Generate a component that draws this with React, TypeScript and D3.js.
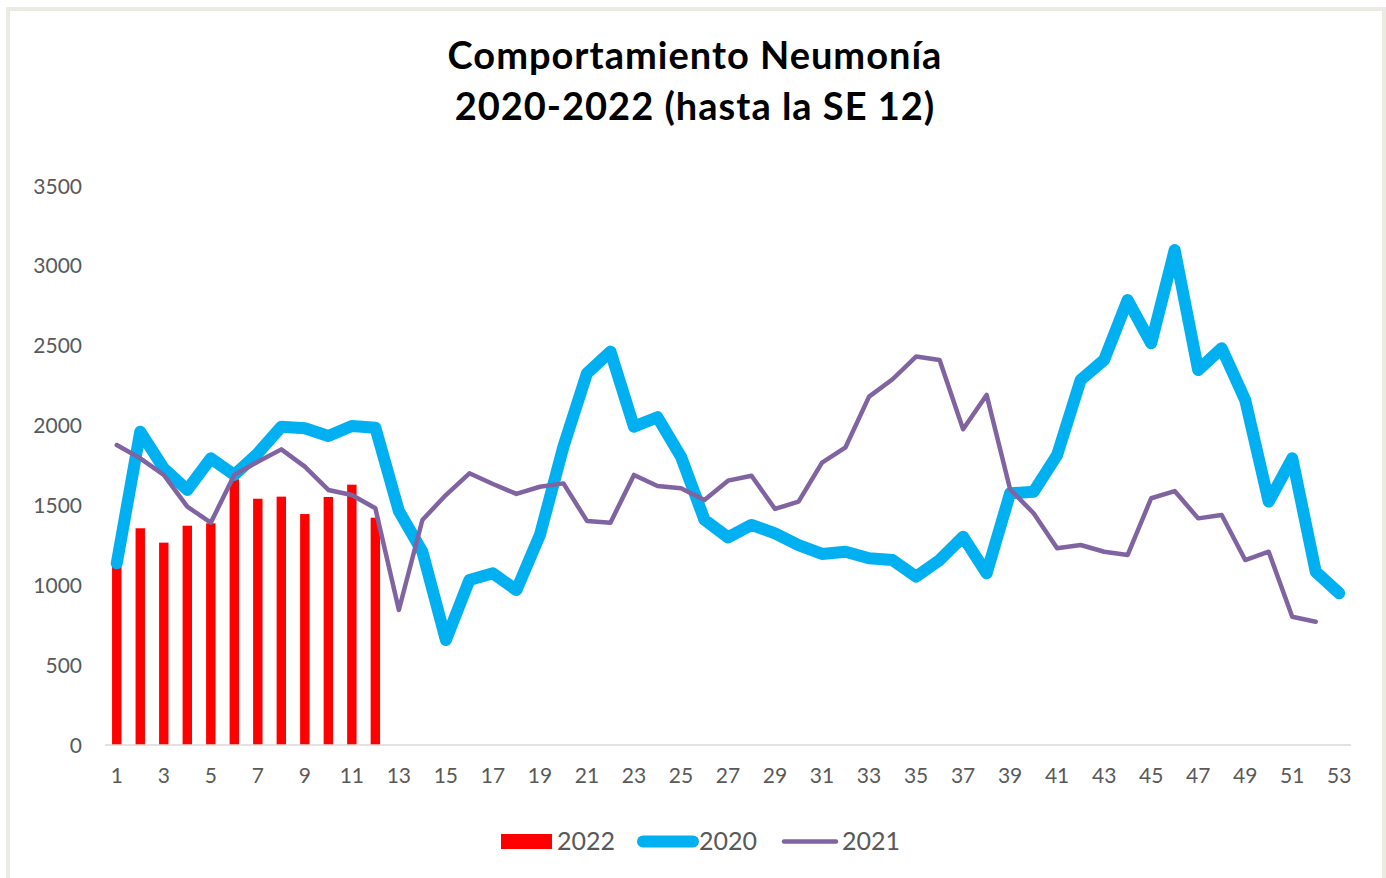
import * as d3 from 'd3';

// Semanas epidemiológicas 1..53
const WEEKS = d3.range(1, 54);

// 2022 (hasta la SE 12) – barras
const CASES_2022 = [1130, 1357, 1267, 1373, 1388, 1664, 1542, 1555, 1446, 1553, 1630, 1423];

// 2020 – línea gruesa
const CASES_2020 = [
  1138, 1962, 1732, 1597, 1795, 1691, 1826, 1993, 1983, 1935,
  1997, 1987, 1465, 1210, 657, 1033, 1075, 970, 1315, 1868,
  2327, 2463, 1993, 2052, 1805, 1410, 1300, 1378, 1325, 1252,
  1196, 1210, 1169, 1158, 1054, 1158, 1304, 1075, 1576, 1586,
  1816, 2285, 2411, 2786, 2515, 3099, 2348, 2484, 2160, 1524,
  1795, 1085, 950,
];

// 2021 – línea delgada (52 semanas)
const CASES_2021 = [
  1878, 1795, 1691, 1492, 1392, 1691, 1774, 1851, 1743, 1597,
  1565, 1482, 845, 1409, 1565, 1701, 1634, 1572, 1617, 1638,
  1403, 1392, 1691, 1622, 1607, 1534, 1655, 1686, 1478, 1524,
  1768, 1864, 2181, 2290, 2432, 2411, 1977, 2192, 1601, 1451,
  1232, 1252, 1210, 1190, 1545, 1590, 1419, 1440, 1158, 1210,
  803, 772,
];

const Y_TICKS = [0, 500, 1000, 1500, 2000, 2500, 3000, 3500];

const WIDTH = 1386;
const HEIGHT = 878;
const PLOT = { left: 105, right: 1351, top: 186, bottom: 745 };

const COLORS = { c2022: '#ff0000', c2020: '#00b0f0', c2021: '#8064a2' };
const FONT = 'Lato, "Open Sans", sans-serif';

export default function App() {
  const x = d3
    .scaleBand<number>()
    .domain(WEEKS)
    .range([PLOT.left, PLOT.right])
    .paddingInner(0.6)
    .paddingOuter(0.3);
  const xc = (w: number) => (x(w) as number) + x.bandwidth() / 2;

  const y = d3.scaleLinear().domain([0, 3500]).range([PLOT.bottom, PLOT.top]);

  const line = d3
    .line<number>()
    .x((_, i) => xc(WEEKS[i]))
    .y((d) => y(d));

  return (
    <svg
      width={WIDTH}
      height={HEIGHT}
      style={{ position: 'absolute', left: 0, top: 0, background: '#fff' }}
    >
      {/* marco del gráfico */}
      <rect x={8} y={9} width={1376} height={890} fill="none" stroke="#ecebe3" strokeWidth={4} />

      {/* título */}
      <g
        fontFamily={FONT}
        fontWeight="bold"
        fontSize={38}
        letterSpacing={1}
        textAnchor="middle"
        fill="#000"
      >
        <text x={695} y={69}>Comportamiento Neumonía</text>
        <text x={695} y={120}>2020-2022 (hasta la SE 12)</text>
      </g>

      {/* eje Y */}
      <g fontFamily={FONT} fontSize={21} fill="#595959" textAnchor="end">
        {Y_TICKS.map((t) => (
          <text key={t} x={82} y={y(t)} dy="0.36em">
            {t}
          </text>
        ))}
      </g>

      {/* barras 2022 */}
      <g>
        {CASES_2022.map((v, i) => (
          <rect
            key={i}
            x={x(WEEKS[i]) as number}
            y={y(v)}
            width={x.bandwidth()}
            height={y(0) - y(v)}
            fill={COLORS.c2022}
          />
        ))}
      </g>

      {/* eje X */}
      <line x1={PLOT.left} x2={PLOT.right} y1={PLOT.bottom} y2={PLOT.bottom} stroke="#d9d9d9" strokeWidth={1.5} />
      <g fontFamily={FONT} fontSize={21} fill="#595959" textAnchor="middle">
        {WEEKS.filter((w) => w % 2 === 1).map((w) => (
          <text key={w} x={xc(w)} y={783}>
            {w}
          </text>
        ))}
      </g>

      {/* líneas */}
      <path
        d={line(CASES_2020) ?? ''}
        fill="none"
        stroke={COLORS.c2020}
        strokeWidth={12}
        strokeLinejoin="round"
        strokeLinecap="round"
      />
      <path
        d={line(CASES_2021) ?? ''}
        fill="none"
        stroke={COLORS.c2021}
        strokeWidth={4.5}
        strokeLinejoin="round"
        strokeLinecap="round"
      />

      {/* leyenda */}
      <g fontFamily={FONT} fontSize={25} fill="#595959">
        <rect x={501} y={834} width={51} height={15} fill={COLORS.c2022} />
        <text x={557} y={850}>2022</text>
        <line x1={643} x2={693} y1={841.5} y2={841.5} stroke={COLORS.c2020} strokeWidth={12} strokeLinecap="round" />
        <text x={699} y={850}>2020</text>
        <line x1={784} x2={836} y1={841.5} y2={841.5} stroke={COLORS.c2021} strokeWidth={4.5} strokeLinecap="round" />
        <text x={842} y={850}>2021</text>
      </g>
    </svg>
  );
}
